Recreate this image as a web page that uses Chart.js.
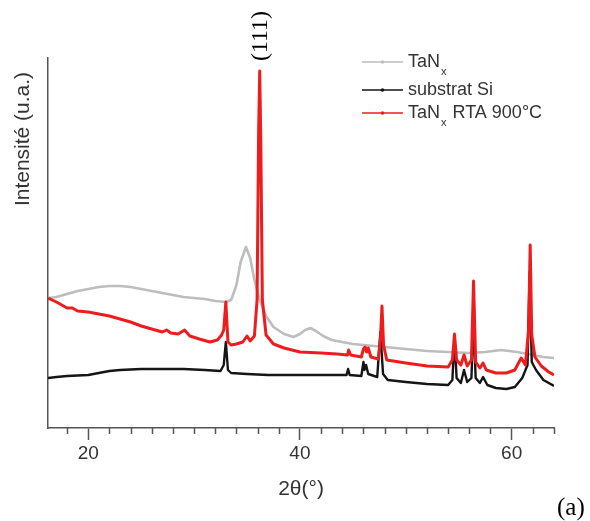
<!DOCTYPE html>
<html>
<head>
<meta charset="utf-8">
<script src="https://cdn.jsdelivr.net/npm/chart.js@4"></script>
<style>
  html, body { margin: 0; padding: 0; background: #fff; }
  #wrap { width: 590px; height: 521px; }
</style>
</head>
<body>
<div id="wrap"><canvas id="xrd" width="590" height="521"></canvas></div>
<script>
// 2theta (deg) and intensity (a.u.)
const tanTheta = [16.2, 17, 18, 19, 20, 21, 22, 23, 24, 25, 26, 27, 28, 29, 30, 31, 32, 33, 33.5, 34,
  34.4, 34.9, 35.3, 35.7, 36.2, 36.8, 37.5, 38.5, 39.4, 40, 40.5, 41, 41.5, 42.2, 43, 44, 45, 46, 47, 48,
  50, 52, 54, 56, 57.5, 59, 60.5, 62, 63, 64];
const tanInt = [130, 131, 134, 137, 139, 141, 142, 142, 141, 139, 137, 135, 133, 131, 130, 129, 127, 126, 128, 143,
  166, 181, 170, 148, 128, 112, 101, 94, 91, 94, 98, 100, 97, 92, 88, 86, 84, 83, 82, 81,
  79, 77, 76, 75, 76, 78, 76, 73, 71, 70];

const siTheta = [16.2, 17, 18, 19, 20, 21, 22, 23, 25, 27, 29, 31, 32.5, 32.8, 33, 33.2, 33.5, 35, 37, 39,
  41, 43, 44.4, 44.55, 44.7, 45.8, 46, 46.1, 46.25, 46.45, 47.3, 47.6, 47.85, 48.3, 50, 52, 54, 54.4, 54.6, 54.8,
  55.2, 55.5, 55.8, 56.2, 56.4, 56.6, 57, 57.3, 57.7, 58.5, 59.5, 60.3, 61, 61.5, 61.7, 61.9, 62.3, 63, 64];
const siInt = [50, 51, 52, 52.5, 53, 55, 57, 58, 59, 59, 59, 58, 57, 63, 86, 58, 55, 54, 53, 53,
  53, 53, 53, 59, 53, 52, 66, 58, 63, 54, 51, 96, 54, 48, 46, 44, 43, 48, 91, 50,
  45, 58, 46, 50, 108, 50, 45, 51, 43, 40, 39, 41, 50, 63, 156, 66, 58, 48, 42];

const rtaTheta = [16.2, 17, 18, 18.5, 19, 20, 21, 22, 23, 24, 25, 26, 27, 27.4, 27.8, 28.5, 29.1, 29.6, 30.5, 31.5,
  32.2, 32.6, 32.8, 33.0, 33.2, 33.5, 34, 34.6, 35, 35.3, 35.7, 35.95, 36.1, 36.2, 36.3, 36.45, 36.8, 37.5, 38.5, 40,
  42, 43.5, 44.5, 44.6, 44.8, 45.8, 46, 46.15, 46.3, 46.45, 46.7, 47.4, 47.6, 47.75, 47.9, 48.2, 50, 52, 54, 54.4,
  54.6, 54.8, 55.2, 55.5, 55.8, 56.2, 56.4, 56.6, 57, 57.3, 57.6, 58.5, 59.5, 60.3, 60.9, 61.3, 61.6, 61.75, 61.9, 62.2,
  62.8, 63.5, 64];
const rtaInt = [130, 126, 120, 120, 117, 116, 114, 112, 109, 106, 102, 99, 96, 98, 95, 94, 98, 92, 89, 86,
  88, 93, 98, 126, 86, 83, 84, 86, 92, 87, 92, 128, 298, 357, 288, 128, 93, 84, 80, 76,
  75, 74, 73, 78, 73, 71, 79, 81, 76, 80, 71, 69, 88, 122, 83, 68, 65, 62, 61, 68,
  94, 68, 63, 73, 62, 68, 147, 66, 60, 65, 58, 55, 55, 58, 70, 63, 98, 183, 93, 71,
  62, 56, 53];

const xTickLabels = [20, 40, 60];
const seriesNames = ['TaN|x|', 'substrat Si', 'TaN|x| RTA 900°C'];
const seriesColors = ['#bdbdbd', '#151515', '#ee1c1c'];

const toPoints = (xs, ys) => xs.map((x, i) => ({ x: x, y: ys[i] }));

const SANS = '"Liberation Sans", Arial, sans-serif';
const SERIF = '"Liberation Serif", "Times New Roman", serif';
const TEXT = '#333';

// axis titles, minor ticks, (111) / (a) labels and the legend
const extras = {
  id: 'extras',
  afterDraw(chart) {
    const ctx = chart.ctx;
    const xs = chart.scales.x;
    const area = chart.chartArea;
    ctx.save();

    // minor ticks every 2 degrees
    ctx.strokeStyle = '#555';
    ctx.lineWidth = 1.5;
    for (let v = 18; v <= 64; v += 2) {
      if (xTickLabels.includes(v)) continue;
      const px = Math.round(xs.getPixelForValue(v)) + 0.5;
      ctx.beginPath();
      ctx.moveTo(px, area.bottom);
      ctx.lineTo(px, area.bottom + 6);
      ctx.stroke();
    }

    ctx.fillStyle = TEXT;
    ctx.textAlign = 'center';
    ctx.textBaseline = 'middle';
    ctx.font = '21px ' + SANS;
    ctx.fillText('2θ(°)', (area.left + area.right) / 2, 489);

    ctx.save();
    ctx.translate(23, 139);
    ctx.rotate(-Math.PI / 2);
    ctx.fillText('Intensité (u.a.)', 0, 0);
    ctx.restore();

    ctx.fillStyle = '#000';
    ctx.font = '24px ' + SERIF;
    ctx.save();
    ctx.translate(xs.getPixelForValue(36.2) + 1, 36);
    ctx.rotate(-Math.PI / 2);
    ctx.fillText('(111)', 0, 0);
    ctx.restore();

    ctx.font = '25px ' + SERIF;
    ctx.textAlign = 'left';
    ctx.fillText('(a)', 557, 508);

    // legend
    const rows = [62, 90, 113];
    seriesNames.forEach((name, i) => {
      const y = rows[i];
      ctx.strokeStyle = seriesColors[i];
      ctx.lineWidth = 1.5;
      ctx.beginPath();
      ctx.moveTo(362, y);
      ctx.lineTo(403, y);
      ctx.stroke();
      ctx.fillStyle = seriesColors[i];
      ctx.beginPath();
      ctx.arc(382.5, y, 1.8, 0, Math.PI * 2);
      ctx.fill();

      ctx.fillStyle = TEXT;
      ctx.textAlign = 'left';
      ctx.textBaseline = 'middle';
      const parts = name.split('|');
      let x = 408;
      parts.forEach((p, k) => {
        if (k % 2 === 1) {
          ctx.font = '11px ' + SANS;
          ctx.fillText(p, x + 1, y + 10);
          x += ctx.measureText(p).width + 2;
        } else {
          ctx.font = '18px ' + SANS;
          ctx.fillText(p, x, y);
          x += ctx.measureText(p).width;
        }
      });
    });

    ctx.restore();
  }
};

new Chart(document.getElementById('xrd'), {
  type: 'line',
  data: {
    datasets: [
      { label: 'TaNx', data: toPoints(tanTheta, tanInt), borderColor: seriesColors[0], borderWidth: 2.6, order: 2 },
      { label: 'substrat Si', data: toPoints(siTheta, siInt), borderColor: seriesColors[1], borderWidth: 2.4, order: 1 },
      { label: 'TaNx RTA 900°C', data: toPoints(rtaTheta, rtaInt), borderColor: seriesColors[2], borderWidth: 3, order: 0 }
    ]
  },
  options: {
    responsive: false,
    animation: false,
    events: [],
    layout: { padding: { top: 58, right: 36, left: 0, bottom: 0 } },
    elements: {
      point: { radius: 0 },
      line: { tension: 0, borderJoinStyle: 'round' }
    },
    plugins: {
      legend: { display: false },
      tooltip: { enabled: false }
    },
    scales: {
      x: {
        type: 'linear',
        min: 16.2,
        max: 64,
        afterFit: (scale) => { scale.height = 93; },
        border: { display: true, color: '#555', width: 1.5 },
        grid: {
          drawOnChartArea: false,
          drawTicks: true,
          tickLength: 12,
          tickWidth: 1.5,
          tickColor: (c) => (c.tick && xTickLabels.includes(c.tick.value)) ? '#555' : 'rgba(0,0,0,0)'
        },
        ticks: {
          stepSize: 2,
          includeBounds: false,
          autoSkip: false,
          maxRotation: 0,
          padding: 2,
          color: TEXT,
          font: { family: SANS, size: 19 },
          callback: (v) => xTickLabels.includes(v) ? String(v) : ''
        }
      },
      y: {
        min: 0,
        max: 370,
        afterFit: (scale) => { scale.width = 48; },
        border: { display: true, color: '#555', width: 1.5 },
        grid: { display: false, drawTicks: false },
        ticks: { display: false }
      }
    }
  },
  plugins: [extras]
});
</script>
</body>
</html>
